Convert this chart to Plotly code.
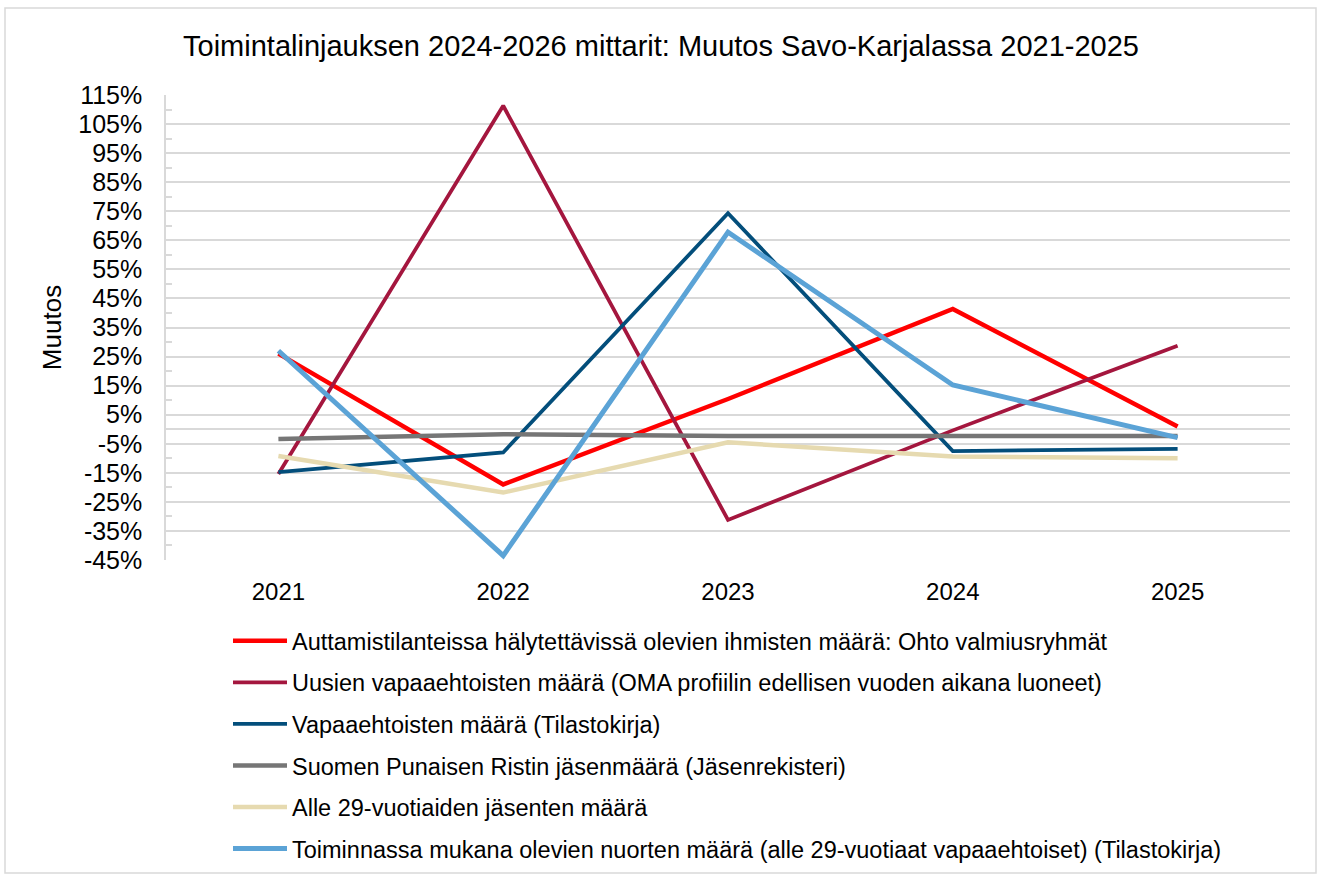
import plotly.graph_objects as go

years = ["2021", "2022", "2023", "2024", "2025"]

series_names = [
    "Auttamistilanteissa hälytettävissä olevien ihmisten määrä: Ohto valmiusryhmät",
    "Uusien vapaaehtoisten määrä (OMA profiilin edellisen vuoden aikana luoneet)",
    "Vapaaehtoisten määrä (Tilastokirja)",
    "Suomen Punaisen Ristin jäsenmäärä (Jäsenrekisteri)",
    "Alle 29-vuotiaiden jäsenten määrä",
    "Toiminnassa mukana olevien nuorten määrä (alle 29-vuotiaat vapaaehtoiset) (Tilastokirja)",
]

ohto = [26.0, -19.0, 10.4, 41.4, 0.9]
uudet = [-15.4, 111.3, -31.2, -0.4, 28.7]
vapaaehtoiset = [-14.8, -8.0, 74.3, -7.5, -6.8]
jasenmaara = [-3.4, -1.7, -2.3, -2.2, -2.3]
alle29_jasenet = [-9.2, -21.8, -4.5, -9.4, -10.0]
nuoret = [27.0, -43.5, 67.8, 15.2, -2.9]

series_values = [ohto, uudet, vapaaehtoiset, jasenmaara, alle29_jasenet, nuoret]
colors = ["#FF0000", "#A4163E", "#034E7B", "#767676", "#E6DAB0", "#5BA3D6"]
widths = [4.5, 3.75, 3.75, 4.5, 4.5, 5]

y_ticks = list(range(-45, 116, 10))
y_ticklabels = [f"{v}%" for v in y_ticks]
minor_ticks = list(range(-40, 111, 10))

fig = go.Figure()
for i, (name, vals) in enumerate(zip(series_names, series_values)):
    fig.add_trace(go.Scatter(
        x=years, y=vals, name=name, mode="lines",
        line=dict(color=colors[i], width=widths[i]),
        legendgroup=f"g{i}",
    ))

W, H = 1322, 878
L, R, T, B = 166, 1290, 95, 560
pw, ph = R - L, B - T

def px2x(px):
    return (px - L) / pw

def py2y(py):
    return (B - py) / ph

fig.update_layout(
    width=W, height=H,
    margin=dict(l=L, r=W - R, t=T, b=H - B, pad=0, autoexpand=False),
    paper_bgcolor="white", plot_bgcolor="white",
    font=dict(family="Liberation Sans, Arial, sans-serif", size=25, color="#000000"),
    title=dict(
        text="Toimintalinjauksen 2024-2026 mittarit: Muutos Savo-Karjalassa 2021-2025",
        x=0.5, xref="container", xanchor="center",
        y=1 - 46 / H, yanchor="middle",
        font=dict(size=29, color="#000000"),
    ),
    showlegend=True,
    legend=dict(
        x=px2x(228), xanchor="left",
        y=py2y(619), yanchor="top",
        font=dict(size=23.5, color="#000000"),
        tracegroupgap=8,
        itemwidth=54,
        bgcolor="rgba(0,0,0,0)",
    ),
    xaxis=dict(
        type="category",
        range=[-0.5, 4.5],
        showgrid=False,
        showline=False,
        ticks="",
        tickfont=dict(size=24),
        ticklabelstandoff=15,
        zeroline=False,
    ),
    yaxis=dict(
        range=[-45, 115],
        tickvals=y_ticks,
        ticktext=y_ticklabels,
        showgrid=True,
        gridcolor="#D9D9D9",
        gridwidth=1.5,
        zeroline=True,
        zerolinecolor="#D9D9D9",
        zerolinewidth=1.5,
        showline=True,
        linecolor="#D9D9D9",
        linewidth=1.5,
        ticks="",
        tickfont=dict(size=25),
        ticklabelstandoff=17,
        minor=dict(tickvals=minor_ticks, ticks="inside", ticklen=6,
                   tickcolor="#D9D9D9", tickwidth=1.5, showgrid=False),
        title=dict(text="Muutos", font=dict(size=26), standoff=9),
    ),
    shapes=[dict(
        type="rect", xref="paper", yref="paper",
        x0=px2x(5), x1=px2x(1316), y0=py2y(873), y1=py2y(8),
        line=dict(color="#D9D9D9", width=1.5), fillcolor="rgba(0,0,0,0)",
        layer="below",
    )],
)

fig.write_html(
    "out.html",
    config={"displayModeBar": False},
    post_script="document.body.style.margin='0';document.body.style.overflow='hidden';",
)
